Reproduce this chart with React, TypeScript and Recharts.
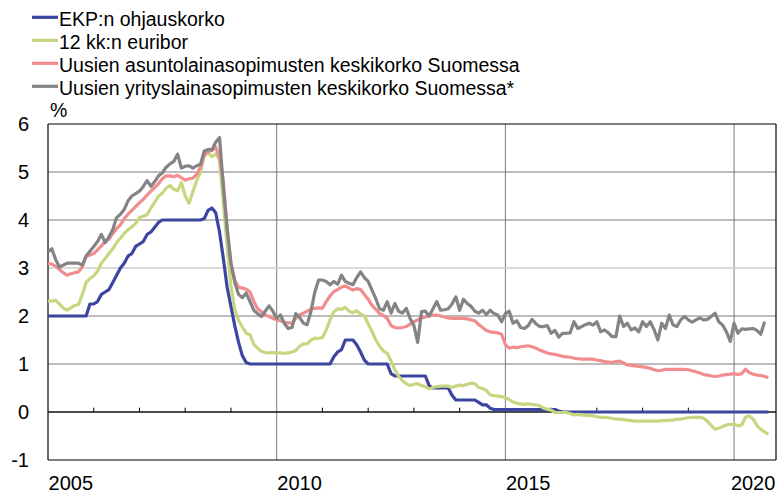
import React from "react";
import { LineChart, Line, XAxis, YAxis, CartesianGrid, ReferenceLine } from "recharts";

// Monthly observations, Jan 2005 = month 0
const startYear = 2005;

const ecbRate = [
  2.0, 2.0, 2.0, 2.0, 2.0, 2.0, 2.0, 2.0, 2.0, 2.0, 2.0, 2.25,
  2.25, 2.3, 2.45, 2.5, 2.55, 2.7, 2.85, 3.0, 3.1, 3.25, 3.3, 3.45,
  3.5, 3.55, 3.7, 3.75, 3.85, 3.95, 4.0, 4.0, 4.0, 4.0, 4.0, 4.0,
  4.0, 4.0, 4.0, 4.0, 4.0, 4.03, 4.2, 4.25, 4.15, 3.75, 3.2, 2.6,
  2.2, 1.8, 1.45, 1.17, 1.03, 1.0, 1.0, 1.0, 1.0, 1.0, 1.0, 1.0,
  1.0, 1.0, 1.0, 1.0, 1.0, 1.0, 1.0, 1.0, 1.0, 1.0, 1.0, 1.0,
  1.0, 1.0, 1.0, 1.15, 1.25, 1.3, 1.5, 1.5, 1.5, 1.4, 1.25, 1.08,
  1.0, 1.0, 1.0, 1.0, 1.0, 1.0, 0.8, 0.75, 0.75, 0.75, 0.75, 0.75,
  0.75, 0.75, 0.75, 0.75, 0.55, 0.5, 0.5, 0.5, 0.5, 0.5, 0.35, 0.25,
  0.25, 0.25, 0.25, 0.25, 0.25, 0.2, 0.15, 0.15, 0.08, 0.05, 0.05, 0.05,
  0.05, 0.05, 0.05, 0.05, 0.05, 0.05, 0.05, 0.05, 0.05, 0.05, 0.05, 0.05,
  0.05, 0.05, 0.02, 0.0, 0.0, 0.0, 0.0, 0.0, 0.0, 0.0, 0.0, 0.0,
  0.0, 0.0, 0.0, 0.0, 0.0, 0.0, 0.0, 0.0, 0.0, 0.0, 0.0, 0.0,
  0.0, 0.0, 0.0, 0.0, 0.0, 0.0, 0.0, 0.0, 0.0, 0.0, 0.0, 0.0,
  0.0, 0.0, 0.0, 0.0, 0.0, 0.0, 0.0, 0.0, 0.0, 0.0, 0.0, 0.0,
  0.0, 0.0, 0.0, 0.0, 0.0, 0.0, 0.0, 0.0, 0.0, 0.0,
];

const euribor12m = [
  2.31, 2.31, 2.33, 2.25, 2.17, 2.12, 2.17, 2.22, 2.24, 2.45, 2.7, 2.78,
  2.84, 2.93, 3.1, 3.2, 3.3, 3.4, 3.53, 3.62, 3.72, 3.8, 3.86, 3.93,
  4.05, 4.08, 4.11, 4.25, 4.37, 4.5, 4.56, 4.66, 4.72, 4.64, 4.61, 4.78,
  4.5, 4.35, 4.59, 4.82, 4.99, 5.36, 5.39, 5.32, 5.38, 5.25, 4.35, 3.45,
  2.62, 2.14, 1.91, 1.77, 1.64, 1.61, 1.41, 1.33, 1.26, 1.24, 1.23, 1.24,
  1.23, 1.23, 1.22, 1.23, 1.25, 1.28, 1.37, 1.42, 1.42, 1.5, 1.54, 1.53,
  1.55, 1.71, 1.92, 2.09, 2.15, 2.14, 2.18, 2.1, 2.07, 2.11, 2.04, 2.0,
  1.84, 1.68, 1.5, 1.37, 1.27, 1.22, 1.06, 0.88, 0.74, 0.65, 0.59, 0.55,
  0.58, 0.59, 0.55, 0.53, 0.48, 0.51, 0.53, 0.54, 0.54, 0.54, 0.51, 0.54,
  0.56, 0.55, 0.58, 0.6, 0.59, 0.51, 0.49, 0.45, 0.36, 0.34, 0.33, 0.32,
  0.3, 0.26, 0.21, 0.18, 0.17, 0.16, 0.17, 0.16, 0.15, 0.13, 0.08, 0.06,
  0.04, -0.01, -0.01, -0.01, -0.01, -0.03, -0.06, -0.05, -0.06, -0.07, -0.07, -0.08,
  -0.1, -0.11, -0.11, -0.12, -0.13, -0.15, -0.15, -0.16, -0.17, -0.18, -0.19, -0.19,
  -0.19, -0.19, -0.19, -0.19, -0.19, -0.18, -0.18, -0.17, -0.17, -0.15, -0.15, -0.13,
  -0.12, -0.11, -0.11, -0.11, -0.13, -0.19, -0.28, -0.36, -0.34, -0.3, -0.27, -0.26,
  -0.25, -0.29, -0.27, -0.11, -0.08, -0.15, -0.28, -0.36, -0.41, -0.47,
];

const housingLoanRate = [
  3.1, 3.08, 3.04, 2.97, 2.9, 2.85, 2.88, 2.9, 2.92, 3.02, 3.24, 3.27,
  3.3, 3.38, 3.46, 3.55, 3.6, 3.72, 3.82, 3.9, 4.03, 4.12, 4.2, 4.28,
  4.36, 4.43, 4.52, 4.6, 4.68, 4.76, 4.86, 4.92, 4.92, 4.9, 4.93, 4.88,
  4.83, 4.86, 4.87, 4.95, 5.1, 5.35, 5.42, 5.45, 5.52, 5.3, 4.8, 3.85,
  3.1, 2.75, 2.6, 2.58, 2.56, 2.5, 2.3, 2.15, 2.09, 2.02, 1.99, 1.95,
  1.92, 1.9, 1.87, 1.86, 1.85, 1.95, 2.02, 2.06, 2.1, 2.14, 2.16, 2.17,
  2.16, 2.3, 2.42, 2.51, 2.55, 2.6, 2.63, 2.58, 2.54, 2.57, 2.55, 2.45,
  2.35, 2.22, 2.14, 2.05, 2.01, 1.95, 1.8, 1.76, 1.75, 1.76, 1.78, 1.83,
  1.88, 1.92, 1.96, 1.98, 2.0, 2.02, 2.02, 2.0, 1.98, 1.96, 1.95, 1.95,
  1.95, 1.95, 1.94, 1.92, 1.9, 1.82, 1.76, 1.7, 1.67, 1.66, 1.65, 1.62,
  1.4, 1.33, 1.35, 1.34, 1.36, 1.37, 1.38, 1.36, 1.33, 1.29, 1.26, 1.23,
  1.21, 1.2, 1.18, 1.16, 1.15, 1.14, 1.12, 1.11, 1.1, 1.1, 1.1, 1.1,
  1.08, 1.07, 1.05, 1.04, 1.03, 1.05, 1.06, 1.02, 0.98, 0.97, 0.96, 0.95,
  0.94, 0.93, 0.91, 0.88, 0.86, 0.87, 0.89, 0.89, 0.89, 0.89, 0.89, 0.89,
  0.88, 0.86, 0.84, 0.81, 0.78, 0.77, 0.75, 0.74, 0.75, 0.77, 0.78, 0.79,
  0.8, 0.78, 0.8, 0.89, 0.82, 0.79, 0.77, 0.76, 0.74, 0.72,
];

const corporateLoanRate = [
  3.34, 3.4, 3.18, 3.02, 3.06, 3.1, 3.1, 3.1, 3.1, 3.06, 3.25, 3.35,
  3.45, 3.55, 3.7, 3.53, 3.65, 3.8, 4.05, 4.12, 4.22, 4.4, 4.5, 4.55,
  4.6, 4.7, 4.82, 4.7, 4.8, 4.92, 4.98, 5.1, 5.17, 5.22, 5.37, 5.08,
  5.12, 5.13, 5.08, 5.13, 5.16, 5.44, 5.47, 5.46, 5.62, 5.72, 4.7, 3.8,
  3.1, 2.7, 2.45, 2.38, 2.48, 2.3, 2.12, 2.05, 1.99, 2.1, 2.21, 2.1,
  1.95, 2.02, 1.85, 1.74, 1.76, 2.05, 1.97, 1.85, 1.82, 2.1, 2.5, 2.75,
  2.75, 2.72, 2.65, 2.72, 2.66, 2.85, 2.72, 2.68, 2.65, 2.8, 2.92, 2.8,
  2.72, 2.54, 2.36, 2.15, 2.12, 2.3, 2.06, 2.26, 2.1, 2.06, 2.16, 1.95,
  1.8, 1.45, 2.09, 2.1, 2.0, 2.15, 2.3, 2.12, 2.13, 2.15, 2.25, 2.4,
  2.12, 2.35, 2.26, 2.2, 2.1, 2.06, 2.12, 2.03, 2.12, 2.05, 2.02, 1.88,
  2.05, 2.1, 1.85, 1.9, 1.76, 1.74, 1.8, 1.93, 1.84, 1.78, 1.78, 1.8,
  1.64, 1.7, 1.56, 1.64, 1.64, 1.65, 1.88, 1.74, 1.78, 1.82, 1.85, 1.81,
  1.88, 1.67, 1.71, 1.65, 1.57, 1.57, 2.0, 1.78, 1.85, 1.71, 1.75, 1.67,
  1.88, 1.78, 1.88, 1.72, 1.5, 1.85, 1.74, 2.02, 1.81, 1.78, 1.92, 1.99,
  1.92, 1.87, 1.92, 1.96, 1.92, 1.93, 1.99, 2.06, 1.88, 1.81, 1.67, 1.47,
  1.85, 1.64, 1.73, 1.72, 1.73, 1.74, 1.7, 1.62, 1.88,
];

const yTicks = [-1, 0, 1, 2, 3, 4, 5, 6];
const yearLabels = ["2005", "2010", "2015", "2020"];
const yearLabelMonths = [6, 66, 126, 185];
const yearTickMonths = [12, 24, 36, 48, 72, 84, 96, 108, 132, 144, 156, 168];
const gridMonths = [60, 120, 180];

const seriesNames = [
  "EKP:n ohjauskorko",
  "12 kk:n euribor",
  "Uusien asuntolainasopimusten keskikorko Suomessa",
  "Uusien yrityslainasopimusten keskikorko Suomessa*",
];
const seriesColors = ["#3C46A0", "#C8D682", "#F28C8E", "#848484"];
const seriesKeys = ["ecb", "euribor", "housing", "corporate"];

const data = euribor12m.map((_, i) => ({
  m: i,
  ecb: ecbRate[i],
  euribor: euribor12m[i],
  housing: housingLoanRate[i],
  corporate: corporateLoanRate[i],
}));

const FONT = "'Liberation Sans', Arial, sans-serif";

export default function App() {
  const labelFor = (v: number) => {
    const idx = yearLabelMonths.indexOf(v);
    return idx >= 0 ? yearLabels[idx] : String(startYear + Math.floor(v / 12));
  };
  return (
    <div style={{ position: "absolute", left: 0, top: 0, width: 782, height: 500, background: "#fff" }}>
      <LineChart width={782} height={500} data={data} margin={{ top: 124, right: 6, bottom: 10, left: 8 }}>
        <CartesianGrid horizontalValues={[1, 2, 4, 5]} verticalValues={gridMonths} stroke="#7a7a7a" strokeWidth={1} />
        <CartesianGrid vertical={false} horizontalValues={[3]} stroke="#cfcfcf" strokeWidth={1.5} />
        <CartesianGrid horizontalValues={[-1, 6]} verticalValues={[0, 191]} stroke="#000" strokeWidth={1.2} />
        <CartesianGrid vertical={false} horizontalValues={[0]} stroke="#111" strokeWidth={1.5} />
        <XAxis
          dataKey="m"
          type="number"
          domain={[0, 191]}
          ticks={yearLabelMonths}
          tickFormatter={labelFor}
          interval={0}
          axisLine={false}
          tickLine={false}
          tickSize={0}
          tickMargin={16}
          height={30}
          tick={{ fontSize: 20, fill: "#000", fontFamily: FONT }}
        />
        <YAxis
          type="number"
          domain={[-1, 6]}
          ticks={yTicks}
          interval={0}
          axisLine={false}
          tickLine={false}
          tickSize={0}
          tickMargin={19}
          width={40}
          tick={{ fontSize: 20, fill: "#000", fontFamily: FONT }}
        />
        {yearTickMonths.map((mm) => (
          <ReferenceLine
            key={mm}
            segment={[
              { x: mm, y: 0 },
              { x: mm, y: 0.09 },
            ]}
            stroke="#000"
            strokeWidth={1}
          />
        ))}
        {seriesKeys.map((k, i) => (
          <Line
            key={k}
            dataKey={k}
            name={seriesNames[i]}
            type="linear"
            stroke={seriesColors[i]}
            strokeWidth={3.2}
            dot={false}
            activeDot={false}
            isAnimationActive={false}
            strokeLinejoin="round"
            connectNulls={false}
          />
        ))}
      </LineChart>
      <svg
        width={782}
        height={120}
        style={{ position: "absolute", left: 0, top: 0, pointerEvents: "none" }}
      >
        {seriesNames.map((n, i) => (
          <g key={n}>
            <line x1={32} x2={58} y1={17.3 + i * 23} y2={17.3 + i * 23} stroke={seriesColors[i]} strokeWidth={3.2} />
            <text x={59} y={26 + i * 23} fontSize={19.5} fontFamily={FONT} fill="#000">
              {n}
            </text>
          </g>
        ))}
        <text x={50} y={117} fontSize={19.5} fontFamily={FONT} fill="#000">
          %
        </text>
      </svg>
    </div>
  );
}
